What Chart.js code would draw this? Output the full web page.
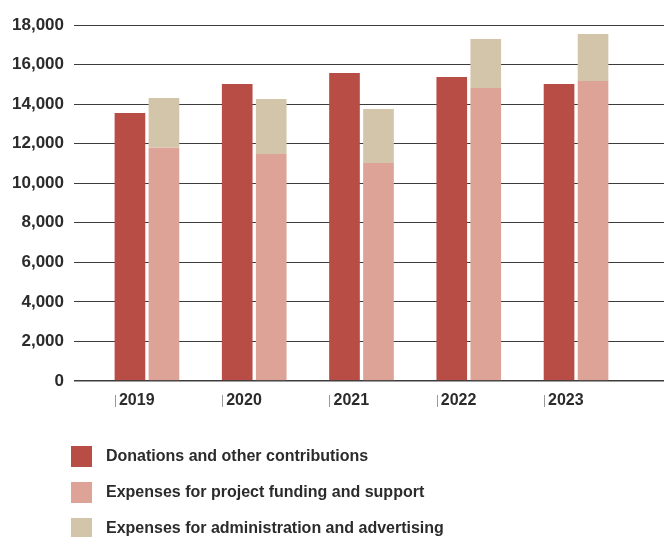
<!DOCTYPE html>
<html>
<head>
<meta charset="utf-8">
<script src="https://cdn.jsdelivr.net/npm/chart.js@4"></script>
<style>
  html, body { margin: 0; padding: 0; background: #fff; }
  #wrap { width: 664px; height: 537px; }
</style>
</head>
<body>
<div id="wrap"><canvas id="barChart"></canvas></div>
<script>
const years = ["2019", "2020", "2021", "2022", "2023"];
const donations = [13550, 15020, 15570, 15370, 15020];
const projectExpenses = [11800, 11480, 11020, 14810, 15170];
const adminExpenses = [2510, 2780, 2730, 2480, 2370];
const yTicks = [0, 2000, 4000, 6000, 8000, 10000, 12000, 14000, 16000, 18000];
const seriesLabels = [
  "Donations and other contributions",
  "Expenses for project funding and support",
  "Expenses for administration and advertising",
];

const FONT = "'Liberation Sans', Arial, sans-serif";
const TEXT = "#2b2b2b";

function points(values) {
  return values.map((v, i) => ({ x: i, y: v }));
}

// little grey bar in front of each year, and the legend list below
const extras = {
  id: "extras",
  afterDraw(chart) {
    const c = chart.ctx;
    const x = chart.scales.x;
    const bottom = chart.chartArea.bottom;
    c.save();
    c.strokeStyle = "#9a9a9a";
    c.lineWidth = 1;
    x.ticks.forEach((t) => {
      const px = Math.round(x.getPixelForValue(t.value) - 32) + 0.5;
      c.beginPath();
      c.moveTo(px, bottom + 14);
      c.lineTo(px, bottom + 26);
      c.stroke();
    });

    c.font = "bold 16px " + FONT;
    c.textBaseline = "middle";
    chart.data.datasets.forEach((ds, i) => {
      const top = bottom + 65 + i * 36;
      c.fillStyle = ds.backgroundColor;
      c.fillRect(71, top, 21, 21);
      c.fillStyle = TEXT;
      c.fillText(ds.label, 106, top + 11);
    });
    c.restore();
  },
};

document.addEventListener("DOMContentLoaded", function () {
  const ctx = document.getElementById("barChart").getContext("2d");

  // transparent side borders leave a real gap between the two bars of a year
  const barStyle = {
    barThickness: 34,
    borderColor: "rgba(0,0,0,0)",
    borderWidth: { left: 2, right: 2, top: 0, bottom: 0 },
    borderSkipped: false,
  };

  new Chart(ctx, {
    type: "bar",
    data: {
      datasets: [
        Object.assign({
          label: seriesLabels[0],
          data: points(donations),
          backgroundColor: "#b84d46",
          stack: "income",
        }, barStyle),
        Object.assign({
          label: seriesLabels[1],
          data: points(projectExpenses),
          backgroundColor: "#dca396",
          stack: "expenses",
        }, barStyle),
        Object.assign({
          label: seriesLabels[2],
          data: points(adminExpenses),
          backgroundColor: "#d3c5aa",
          stack: "expenses",
        }, barStyle),
      ],
    },
    plugins: [extras],
    options: {
      responsive: true,
      maintainAspectRatio: false,
      animation: false,
      layout: {
        padding: { top: 25, right: 0, bottom: 116, left: 0 },
      },
      plugins: {
        legend: { display: false },
        tooltip: { enabled: true },
      },
      scales: {
        x: {
          type: "linear",
          offset: false,
          bounds: "data",
          min: -0.68,
          max: 4.82,
          grid: { display: false, drawTicks: false },
          border: { display: false },
          afterBuildTicks: (scale) => {
            scale.ticks = years.map((y, i) => ({ value: i }));
          },
          afterFit: (scale) => {
            scale.height = 40;
          },
          ticks: {
            align: "start",
            labelOffset: -28,
            padding: 10,
            color: TEXT,
            font: { family: FONT, size: 16, weight: "bold" },
            callback: (v) => years[v],
          },
        },
        y: {
          stacked: true,
          min: 0,
          max: 18000,
          afterBuildTicks: (scale) => {
            scale.ticks = yTicks.map((v) => ({ value: v }));
          },
          afterFit: (scale) => {
            scale.width = 74;
          },
          grid: {
            color: "#3c3c3c",
            lineWidth: (c) => (c.tick && c.tick.value === 0 ? 1.6 : 1),
            drawTicks: false,
          },
          border: { display: false },
          ticks: {
            padding: 10,
            color: TEXT,
            font: { family: FONT, size: 17, weight: "bold" },
          },
        },
      },
    },
  });
});
</script>
</body>
</html>
